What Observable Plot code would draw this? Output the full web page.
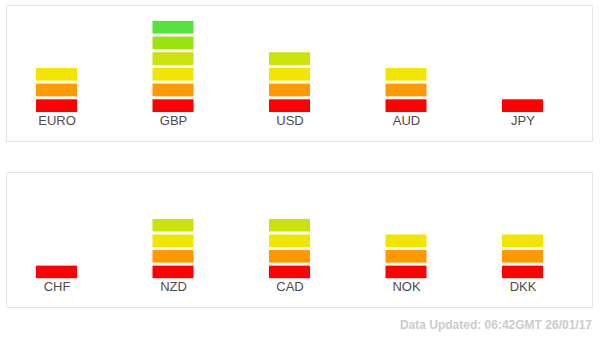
<!DOCTYPE html>
<html>
<head>
<meta charset="utf-8">
<script src="https://cdn.jsdelivr.net/npm/d3@7"></script>
<script src="https://cdn.jsdelivr.net/npm/@observablehq/plot@0.6"></script>
<style>
  html, body { margin: 0; padding: 0; background: #fff; }
  #caption { font: bold 12px "Liberation Sans", Arial, sans-serif; color: #ccc; text-align: right; padding-right: 8px; margin-top: 5px; line-height: 16px; }
</style>
</head>
<body>
<div id="chart"></div>
<div id="caption">Data Updated: 06:42GMT 26/01/17</div>
<script>
const row1Currencies = ["EURO", "GBP", "USD", "AUD", "JPY"];
const row1Levels = [3, 6, 4, 3, 1];
const row2Currencies = ["CHF", "NZD", "CAD", "NOK", "DKK"];
const row2Levels = [1, 4, 4, 3, 3];
const levels = [1, 2, 3, 4, 5, 6];
const levelColors = ["#ff0000", "#ff9900", "#f2e600", "#cbe20c", "#9be20e", "#55e23c"];

function blocks(currencies, counts) {
  return currencies.flatMap((c, i) => d3.range(1, counts[i] + 1).map(l => ({currency: c, level: l})));
}

function panel(currencies, counts, height, marginTop, marginBottom) {
  return Plot.plot({
    width: 600,
    height,
    marginTop,
    marginBottom,
    marginLeft: 6,
    marginRight: 8,
    style: {fontFamily: "'Liberation Sans', Arial, sans-serif", fontSize: "13px", color: "#4d4d4d", background: "#fff"},
    x: {domain: currencies, range: [-1.75, 580.75], paddingInner: 0.648, paddingOuter: 0.324, round: false},
    y: {domain: [-1.85, 6.82], axis: null},
    color: {type: "ordinal", domain: levels, range: levelColors},
    marks: [
      Plot.frame({stroke: "#e6e6e6"}),
      Plot.rect(blocks(currencies, counts), {
        x: "currency",
        y1: d => d.level - 1,
        y2: "level",
        fill: "level",
        insetTop: 3
      }),
      Plot.axisX({anchor: "bottom", tickSize: 0, tickPadding: 0, dy: -21, lineAnchor: "middle", label: null, fill: "#4d4d4d"})
    ]
  });
}

const chart = document.getElementById("chart");
chart.append(panel(row1Currencies, row1Levels, 166, 5, 25));
chart.append(panel(row2Currencies, row2Levels, 146, 6, 5));
</script>
</body>
</html>
